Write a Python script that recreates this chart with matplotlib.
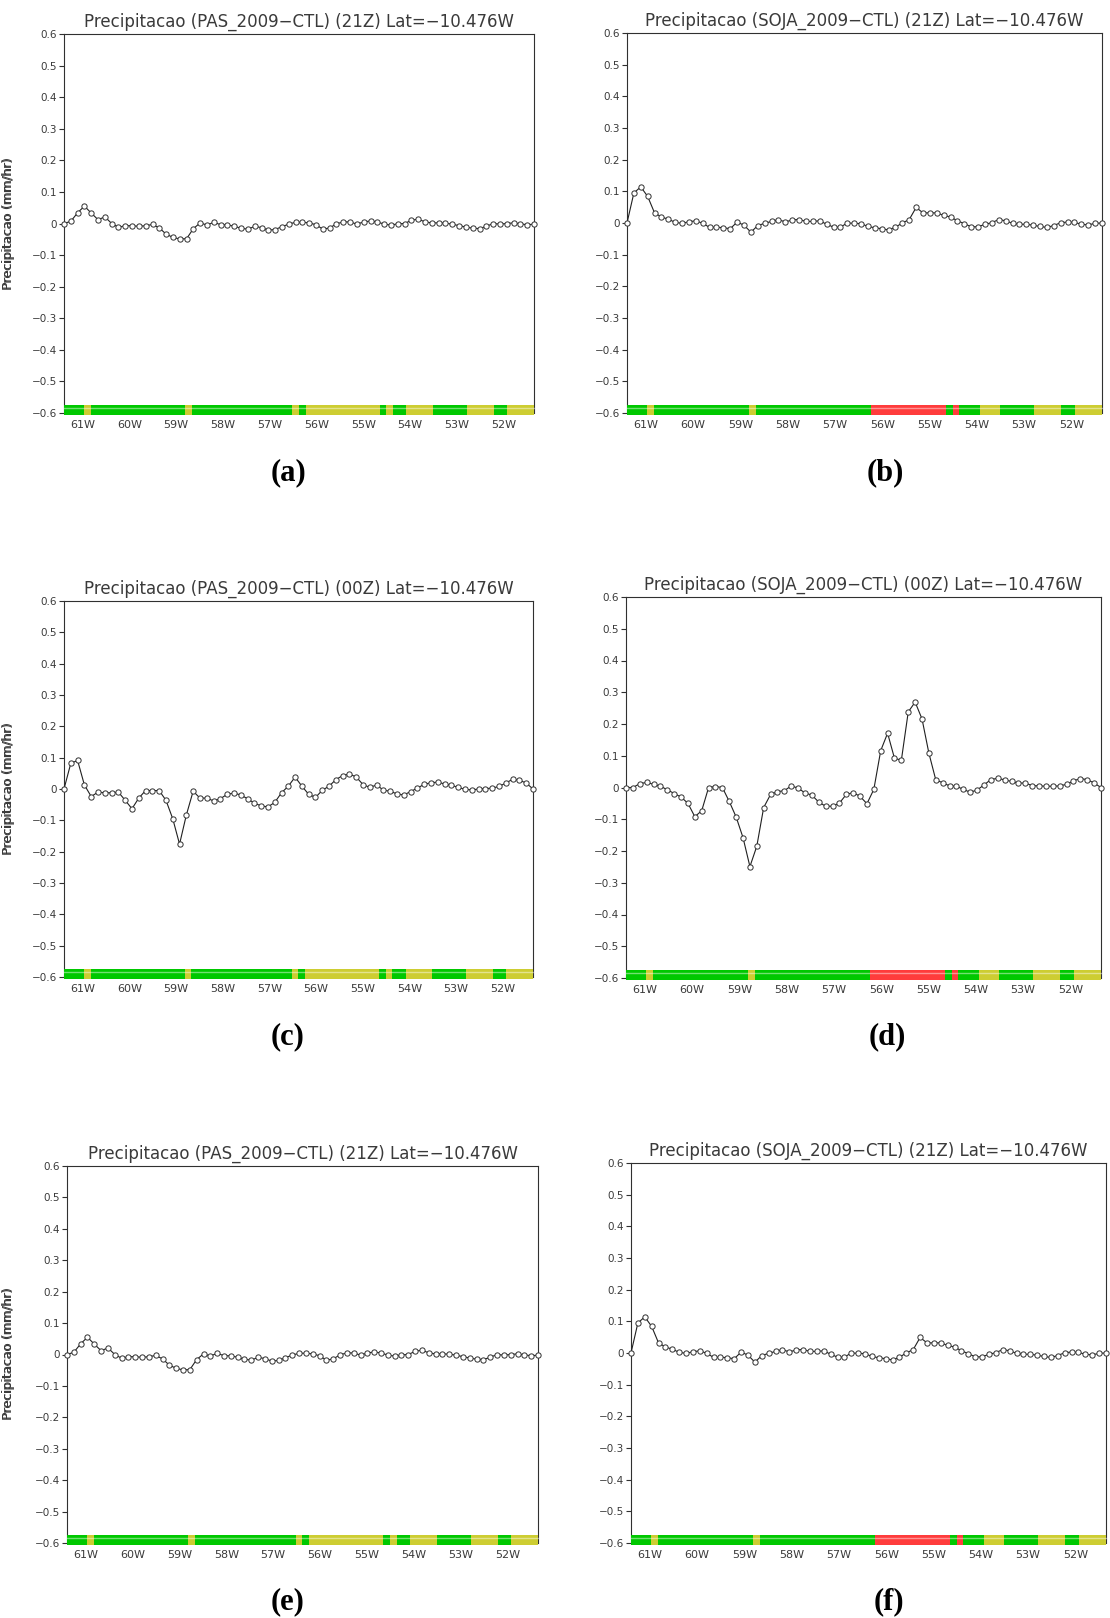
import numpy as np
import matplotlib
matplotlib.use("Agg")
import matplotlib.pyplot as plt
from matplotlib.colors import ListedColormap
from matplotlib.ticker import FixedLocator, FixedFormatter

plt.rcParams["font.family"] = ["DejaVu Sans"]

# Longitude of the 70 grid points along the transect (lat -10.476)
lon = np.linspace(-61.40, -51.35, 70)

# Precipitation difference (mm/hr), scenario minus control
pas_21z = [0.000, 0.007, 0.034, 0.055, 0.033, 0.012, 0.021, 0.000, -0.012, -0.007,
           -0.007, -0.009, -0.007, -0.003, -0.014, -0.034, -0.044, -0.049, -0.048, -0.016,
           0.002, -0.005, 0.004, -0.004, -0.004, -0.009, -0.015, -0.018, -0.009, -0.013,
           -0.021, -0.019, -0.010, -0.002, 0.004, 0.004, 0.002, -0.004, -0.018, -0.014,
           -0.001, 0.005, 0.005, -0.002, 0.005, 0.008, 0.005, -0.002, -0.005, -0.001,
           0.000, 0.010, 0.014, 0.005, 0.002, 0.002, 0.001, -0.002, -0.007, -0.011,
           -0.015, -0.016, -0.009, 0.000, -0.002, 0.000, 0.002, -0.001, -0.004, -0.002]

soja_21z = [0.000, 0.095, 0.114, 0.084, 0.032, 0.019, 0.012, 0.002, -0.001, 0.004,
            0.007, -0.001, -0.014, -0.013, -0.015, -0.018, 0.003, -0.007, -0.029, -0.008,
            -0.001, 0.005, 0.011, 0.003, 0.010, 0.011, 0.005, 0.005, 0.007, -0.004,
            -0.013, -0.013, 0.000, -0.001, -0.002, -0.011, -0.015, -0.018, -0.022, -0.013,
            0.000, 0.011, 0.049, 0.032, 0.032, 0.032, 0.024, 0.019, 0.007, -0.002,
            -0.012, -0.012, -0.004, 0.001, 0.011, 0.007, -0.001, -0.004, -0.004, -0.007,
            -0.011, -0.014, -0.008, 0.001, 0.003, 0.002, -0.004, -0.006, -0.001, 0.000]

pas_00z = [0.000, 0.082, 0.091, 0.013, -0.024, -0.010, -0.012, -0.012, -0.010, -0.036,
           -0.063, -0.029, -0.005, -0.005, -0.005, -0.036, -0.095, -0.176, -0.083, -0.007,
           -0.029, -0.029, -0.038, -0.031, -0.017, -0.013, -0.019, -0.031, -0.045, -0.054,
           -0.057, -0.043, -0.012, 0.009, 0.038, 0.009, -0.017, -0.027, -0.004, 0.009,
           0.030, 0.043, 0.048, 0.038, 0.014, 0.005, 0.013, -0.004, -0.007, -0.016,
           -0.019, -0.008, 0.003, 0.015, 0.020, 0.022, 0.016, 0.012, 0.005, -0.001,
           -0.003, 0.000, 0.001, 0.003, 0.008, 0.019, 0.031, 0.028, 0.019, 0.000]

soja_00z = [0.000, 0.000, 0.012, 0.016, 0.010, 0.004, -0.007, -0.019, -0.030, -0.050,
            -0.092, -0.073, 0.000, 0.003, 0.000, -0.044, -0.093, -0.158, -0.249, -0.185,
            -0.063, -0.022, -0.013, -0.010, 0.005, -0.002, -0.017, -0.024, -0.046, -0.059,
            -0.059, -0.049, -0.022, -0.016, -0.028, -0.051, -0.006, 0.116, 0.171, 0.092,
            0.086, 0.238, 0.269, 0.216, 0.108, 0.024, 0.015, 0.005, 0.004, -0.006,
            -0.015, -0.008, 0.008, 0.025, 0.029, 0.024, 0.019, 0.014, 0.014, 0.006,
            0.005, 0.004, 0.004, 0.005, 0.010, 0.021, 0.028, 0.025, 0.014, 0.000]

# Land cover along the transect (run lengths): F = forest, P = pasture, S = soybean
landuse_pas = [("F", 3), ("P", 1), ("F", 14), ("P", 1), ("F", 15), ("P", 1), ("F", 1),
               ("P", 11), ("F", 1), ("P", 1), ("F", 2), ("P", 4), ("F", 5), ("P", 4),
               ("F", 2), ("P", 4)]
landuse_soja = [("F", 3), ("P", 1), ("F", 14), ("P", 1), ("F", 17), ("S", 11), ("F", 1),
                ("S", 1), ("F", 3), ("P", 3), ("F", 5), ("P", 4), ("F", 2), ("P", 4)]
landuse_classes = ["F", "P", "S"]
landuse_colors = ["#00c800", "#cdcd32", "#ff3c3c"]

lon_ticks = [-61, -60, -59, -58, -57, -56, -55, -54, -53, -52]
lon_labels = ["61W", "60W", "59W", "58W", "57W", "56W", "55W", "54W", "53W", "52W"]
y_ticks = [-0.6, -0.5, -0.4, -0.3, -0.2, -0.1, 0.0, 0.1, 0.2, 0.3, 0.4, 0.5, 0.6]
y_labels = ["\u22120.6", "\u22120.5", "\u22120.4", "\u22120.3", "\u22120.2", "\u22120.1", "0",
            "0.1", "0.2", "0.3", "0.4", "0.5", "0.6"]

panels = [
    # (series, land cover, scenario, hour, letter, box px: left, right, top, bottom, letter pos)
    (pas_21z, landuse_pas, "PAS_2009\u2212CTL", "21Z", "(a)", (64, 534, 34, 413), (288, 473)),
    (soja_21z, landuse_soja, "SOJA_2009\u2212CTL", "21Z", "(b)", (627, 1102, 33, 413), (885, 473)),
    (pas_00z, landuse_pas, "PAS_2009\u2212CTL", "00Z", "(c)", (64, 533, 601, 977), (288, 1037)),
    (soja_00z, landuse_soja, "SOJA_2009\u2212CTL", "00Z", "(d)", (626, 1101, 597, 978), (887, 1037)),
    (pas_21z, landuse_pas, "PAS_2009\u2212CTL", "21Z", "(e)", (67, 538, 1166, 1543), (288, 1602)),
    (soja_21z, landuse_soja, "SOJA_2009\u2212CTL", "21Z", "(f)", (631, 1106, 1163, 1543), (889, 1602)),
]

W, H = 1110, 1618
fig = plt.figure(figsize=(W / 100, H / 100), dpi=100)
fig.patch.set_facecolor("white")

text_col = "#3a3a3a"
line_col = "#202020"
cmap = ListedColormap(landuse_colors)


def expand(runs):
    codes = []
    for cls, n in runs:
        codes += [landuse_classes.index(cls)] * n
    return np.array(codes)


for series, landuse, scen, hour, letter, (l, r, t, b), (lx, ly) in panels:
    ax = fig.add_axes([l / W, 1 - b / H, (r - l) / W, (b - t) / H])
    ax.set_xlim(lon[0], lon[-1])
    ax.set_ylim(-0.6, 0.6)

    # land-cover strip along the bottom of the frame
    codes = expand(landuse)
    ax.imshow(codes[None, :], cmap=cmap, vmin=-0.5, vmax=2.5, aspect="auto",
              interpolation="nearest", extent=(lon[0], lon[-1], -0.607, -0.578),
              clip_on=False, zorder=3)
    ax.plot([lon[0], lon[-1]], [-0.583, -0.583], color="white", alpha=0.45,
            lw=1.0, clip_on=False, zorder=4)

    ax.plot(lon, series, color=line_col, lw=0.8, marker="o", ms=3.8,
            mfc="white", mec="#303030", mew=0.7, clip_on=False, zorder=5)

    for side in ["top", "right", "left"]:
        ax.spines[side].set_color("#303030")
        ax.spines[side].set_linewidth(0.8)
    ax.spines["bottom"].set_visible(False)

    ax.yaxis.set_major_locator(FixedLocator(y_ticks))
    ax.yaxis.set_major_formatter(FixedFormatter(y_labels))
    ax.xaxis.set_major_locator(FixedLocator(lon_ticks))
    ax.xaxis.set_major_formatter(FixedFormatter(lon_labels))
    ax.tick_params(axis="y", direction="out", length=3.5, width=0.8, color="#303030",
                   labelsize=7.5, labelcolor=text_col, pad=1.5)
    ax.tick_params(axis="x", length=0, labelsize=8, labelcolor=text_col, pad=5)

    ax.set_title(f"Precipitacao ({scen}) ({hour}) Lat=\u221210.476W",
                 fontsize=12, color=text_col, pad=5, family="DejaVu Sans")
    ax.set_ylabel("Precipitacao (mm/hr)", fontsize=9, color=text_col,
                  family="DejaVu Sans", fontweight="normal")
    ax.yaxis.set_label_coords(-(l - 15.5) / (r - l), 0.5)

    fig.text(lx / W, 1 - ly / H, letter, ha="center", va="center",
             fontsize=22, fontweight="bold",
             family=["Liberation Serif", "DejaVu Serif"], color="black")

fig.savefig("out.png", dpi=100, facecolor="white")
